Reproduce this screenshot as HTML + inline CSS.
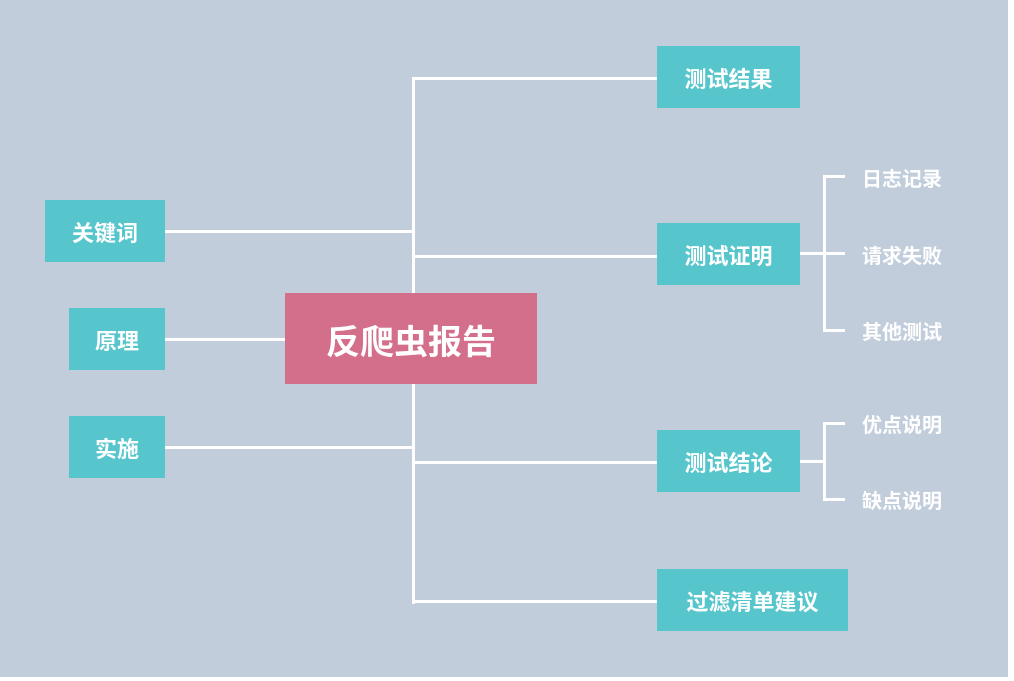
<!DOCTYPE html>
<html><head><meta charset="utf-8"><style>
html,body{margin:0;padding:0;background:#fff;}
#c{position:relative;width:1008px;height:677px;background:#c1cddb;overflow:hidden;font-family:"Liberation Sans","Noto Sans CJK SC",sans-serif;}
.b{position:absolute;background:#56c5cc;color:#fff;font-weight:bold;font-size:22px;display:flex;align-items:center;justify-content:center;padding-top:2px;box-sizing:border-box;}
.l{position:absolute;background:#fff;}
.t{position:absolute;color:#fff;font-weight:bold;font-size:20px;line-height:24px;}
</style></head><body><div id="c">
<div class="l" style="left:412px;top:77px;width:3px;height:527px"></div>
<div class="l" style="left:412px;top:77px;width:245px;height:3px"></div>
<div class="l" style="left:412px;top:255px;width:245px;height:3px"></div>
<div class="l" style="left:412px;top:461px;width:245px;height:3px"></div>
<div class="l" style="left:412px;top:600px;width:245px;height:3px"></div>
<div class="l" style="left:165px;top:230px;width:249px;height:3px"></div>
<div class="l" style="left:165px;top:338px;width:120px;height:3px"></div>
<div class="l" style="left:165px;top:446px;width:249px;height:3px"></div>
<div class="b" style="left:285px;top:293px;width:252px;height:91px;background:#d36f8b;font-size:34px">反爬虫报告</div>
<div class="b" style="left:45px;top:200px;width:120px;height:62px">关键词</div>
<div class="b" style="left:69px;top:308px;width:96px;height:62px">原理</div>
<div class="b" style="left:69px;top:416px;width:96px;height:62px">实施</div>
<div class="b" style="left:657px;top:46px;width:143px;height:62px">测试结果</div>
<div class="b" style="left:657px;top:223px;width:143px;height:62px">测试证明</div>
<div class="b" style="left:657px;top:430px;width:143px;height:62px">测试结论</div>
<div class="b" style="left:657px;top:569px;width:191px;height:62px">过滤清单建议</div>
<div class="l" style="left:800px;top:252px;width:45px;height:3px"></div>
<div class="l" style="left:823px;top:175px;width:3px;height:157px"></div>
<div class="l" style="left:823px;top:175px;width:22px;height:3px"></div>
<div class="l" style="left:823px;top:329px;width:22px;height:3px"></div>
<div class="t" style="left:862px;top:168px">日志记录</div>
<div class="t" style="left:862px;top:245px">请求失败</div>
<div class="t" style="left:862px;top:321px">其他测试</div>
<div class="l" style="left:800px;top:460px;width:25px;height:3px"></div>
<div class="l" style="left:823px;top:422px;width:3px;height:79px"></div>
<div class="l" style="left:823px;top:422px;width:22px;height:3px"></div>
<div class="l" style="left:823px;top:498px;width:22px;height:3px"></div>
<div class="t" style="left:862px;top:414px">优点说明</div>
<div class="t" style="left:862px;top:490px">缺点说明</div>
</div></body></html>
